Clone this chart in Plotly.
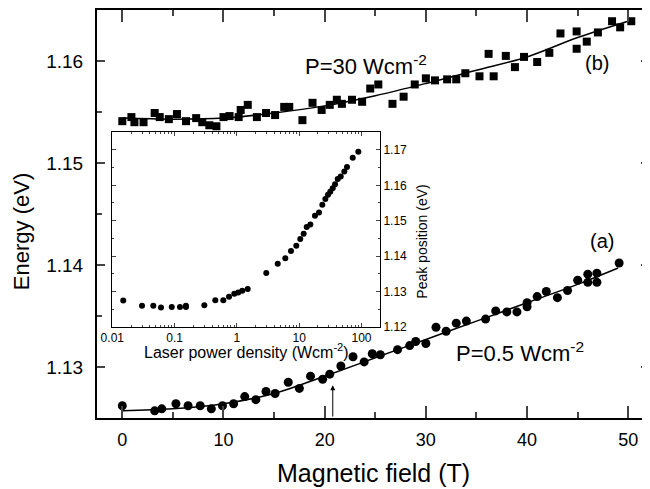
import plotly.graph_objects as go

# (a) P = 0.5 W/cm2, circles
field_a = [0.0, 3.2, 3.9, 5.3, 6.5, 7.7, 8.8, 9.9, 11.0, 12.1, 13.2, 14.2, 15.1, 16.4, 17.5,
           18.6, 19.8, 20.5, 21.6, 22.8, 23.9, 24.7, 25.5, 27.2, 28.4, 29.0, 30.0, 31.0, 32.0,
           33.0, 34.0, 35.9, 36.9, 38.0, 39.0, 40.0, 40.0, 41.0, 41.9, 43.0, 44.0, 45.0, 46.0,
           46.0, 46.9, 46.9, 49.1]
energy_a = [1.1262, 1.1257, 1.1259, 1.1264, 1.1262, 1.1262, 1.1259, 1.1262, 1.1264, 1.1271,
            1.1268, 1.1276, 1.1274, 1.1285, 1.1279, 1.1291, 1.1288, 1.1293, 1.1301, 1.1310,
            1.1305, 1.1313, 1.1312, 1.1317, 1.1321, 1.1325, 1.1323, 1.1339, 1.1335, 1.1343,
            1.1345, 1.1347, 1.1355, 1.1354, 1.1354, 1.1359, 1.1363, 1.1369, 1.1374, 1.1368,
            1.1375, 1.1385, 1.1391, 1.1383, 1.1392, 1.1383, 1.1402]
fit_field_a = [0, 5, 10, 15, 20, 25, 30, 35, 40, 45, 49]
fit_energy_a = [1.1257, 1.1259, 1.1264, 1.1274, 1.1291, 1.1309, 1.1327, 1.1345, 1.1363, 1.1381, 1.1397]

# (b) P = 30 W/cm2, squares
field_b = [0.0, 0.9, 1.2, 2.1, 3.2, 3.7, 4.6, 5.4, 6.3, 7.3, 7.9, 8.6, 9.3, 10.0, 10.6, 11.5,
           11.7, 12.4, 13.3, 14.2, 15.1, 16.0, 16.5, 17.8, 18.8, 19.7, 20.5, 21.2, 21.7, 22.7,
           23.7, 24.5, 25.3, 26.7, 27.8, 28.9, 30.0, 30.9, 32.1, 33.0, 33.9, 35.3, 36.2, 36.7,
           37.9, 38.8, 39.7, 41.0, 42.2, 43.3, 44.9, 44.9, 45.9, 47.0, 48.4, 49.2, 50.3]
energy_b = [1.1541, 1.1545, 1.1540, 1.1540, 1.1549, 1.1545, 1.1543, 1.1548, 1.1541, 1.1544,
            1.1540, 1.1537, 1.1536, 1.1545, 1.1546, 1.1545, 1.1552, 1.1557, 1.1545, 1.1549,
            1.1547, 1.1555, 1.1555, 1.1542, 1.1559, 1.1552, 1.1557, 1.1562, 1.1558, 1.1562,
            1.1560, 1.1573, 1.1577, 1.1558, 1.1565, 1.1577, 1.1583, 1.1581, 1.1582, 1.1582,
            1.1588, 1.1585, 1.1607, 1.1585, 1.1605, 1.1594, 1.1604, 1.1599, 1.1608, 1.1627,
            1.1629, 1.1612, 1.1619, 1.1628, 1.1639, 1.1633, 1.1639]
fit_field_b = [0, 5, 10, 15, 20, 25, 30, 35, 40, 45, 50.3]
fit_energy_b = [1.1544, 1.1543, 1.1544, 1.1549, 1.1556, 1.1566, 1.1578, 1.1591, 1.1604, 1.1623, 1.1640]

# inset: peak position vs laser power density
power = [0.015, 0.030, 0.0455, 0.0605, 0.090, 0.122, 0.152, 0.152, 0.30, 0.45, 0.605, 0.747,
         0.908, 1.05, 1.22, 1.49, 2.96, 4.52, 5.98, 7.38, 8.98, 10.4, 11.8, 13.2, 15.1, 17.9,
         20.8, 23.5, 26.3, 29.0, 31.5, 34.5, 37.6, 41.5, 46.4, 53.0, 58.5, 72.3, 88.9]
peak = [1.1274, 1.1259, 1.1259, 1.1254, 1.1256, 1.1256, 1.1259, 1.1256, 1.1261, 1.1275, 1.1275,
        1.1285, 1.1293, 1.1297, 1.1302, 1.1307, 1.1352, 1.1378, 1.1394, 1.1414, 1.1429, 1.1448,
        1.1463, 1.1482, 1.1489, 1.1514, 1.1523, 1.1545, 1.1561, 1.1573, 1.1582, 1.1592, 1.1603,
        1.1618, 1.1625, 1.1639, 1.1652, 1.1678, 1.1695]

inset_xticks = [0.01, 0.1, 1, 10, 100]
inset_xlabels = ["0.01", "0.1", "1", "10", "100"]
inset_minor = [m * d for d in [0.01, 0.1, 1, 10, 100] for m in range(2, 10) if m * d < 200]

FONT = "Liberation Sans, Arial, sans-serif"

fig = go.Figure()
fig.add_trace(go.Scatter(x=fit_field_a, y=fit_energy_a, mode="lines", line=dict(color="black", width=1.5, shape="spline")))
fig.add_trace(go.Scatter(x=field_a, y=energy_a, mode="markers", marker=dict(symbol="circle", size=9, color="black")))
fig.add_trace(go.Scatter(x=fit_field_b, y=fit_energy_b, mode="lines", line=dict(color="black", width=1.5, shape="spline")))
fig.add_trace(go.Scatter(x=field_b, y=energy_b, mode="markers", marker=dict(symbol="square", size=8, color="black")))
fig.add_trace(go.Scatter(x=power, y=peak, mode="markers", xaxis="x2", yaxis="y2", marker=dict(size=6, color="black")))

# the page body adds an 8px offset; figure sized so it fills the window exactly
fig.update_layout(
    width=642, height=481,
    margin=dict(l=89, r=1, t=2, b=71),
    plot_bgcolor="white", paper_bgcolor="white",
    showlegend=False,
    font=dict(family=FONT, color="black"),
    xaxis=dict(
        range=[-2.5, 52.05], tickvals=[0, 10, 20, 30, 40, 50], ticks="inside", ticklen=12, tickwidth=1.5,
        minor=dict(tickvals=[5, 15, 25, 35, 45], ticks="inside", ticklen=6, tickwidth=1.5),
        showline=True, linewidth=2, linecolor="black", mirror="allticks", showgrid=False, zeroline=False,
        tickfont=dict(size=18), ticklabelstandoff=4, automargin=False,
    ),
    yaxis=dict(
        range=[1.125, 1.165], tickvals=[1.13, 1.14, 1.15, 1.16], tickformat=".2f", ticks="inside", ticklen=8, tickwidth=1.5,
        minor=dict(tickvals=[1.135, 1.145, 1.155], ticks="inside", ticklen=5, tickwidth=1.5),
        showline=True, linewidth=2, linecolor="black", mirror="allticks", showgrid=False, zeroline=False,
        tickfont=dict(size=19), ticklabelstandoff=8, automargin=False,
    ),
    xaxis2=dict(
        type="log", range=[-2, 2.297], domain=[0.0277, 0.5127], anchor="y2",
        tickvals=inset_xticks, ticktext=inset_xlabels, ticks="inside", ticklen=4, tickwidth=1,
        minor=dict(tickvals=inset_minor, ticks="inside", ticklen=2, tickwidth=1),
        showline=True, linewidth=1, linecolor="black", mirror="allticks", showgrid=False, zeroline=False,
        tickfont=dict(size=12), automargin=False,
    ),
    yaxis2=dict(
        range=[1.12, 1.175], domain=[0.2238, 0.7002], anchor="x2", side="right",
        tickvals=[1.12, 1.13, 1.14, 1.15, 1.16, 1.17], tickformat=".2f", ticks="inside", ticklen=4, tickwidth=1,
        minor=dict(tickvals=[1.125, 1.135, 1.145, 1.155, 1.165], ticks="inside", ticklen=2, tickwidth=1),
        showline=True, linewidth=1, linecolor="black", mirror="allticks", showgrid=False, zeroline=False,
        tickfont=dict(size=12), automargin=False,
    ),
    annotations=[
        # axis titles placed in paper coordinates
        dict(x=0.5, y=-0.1348, xref="paper", yref="paper", text="Magnetic field (T)", showarrow=False,
             font=dict(size=25), xanchor="center", yanchor="middle"),
        dict(x=-0.1377, y=0.458, xref="paper", yref="paper", text="Energy (eV)", showarrow=False,
             font=dict(size=22), textangle=-90, xanchor="center", yanchor="middle"),
        dict(x=0.2717, y=0.1635, xref="paper", yref="paper", text="Laser power density (Wcm<sup>-2</sup>)",
             showarrow=False, font=dict(size=16), xanchor="center", yanchor="middle"),
        dict(x=0.5887, y=0.432, xref="paper", yref="paper", text="Peak position (eV)", showarrow=False,
             font=dict(size=14), textangle=-90, xanchor="center", yanchor="middle"),
        dict(x=24.1, y=1.1596, text="P=30 Wcm<sup>-2</sup>", showarrow=False, font=dict(size=22)),
        dict(x=39.3, y=1.1315, text="P=0.5 Wcm<sup>-2</sup>", showarrow=False, font=dict(size=22)),
        dict(x=46.9, y=1.1598, text="(b)", showarrow=False, font=dict(size=20)),
        dict(x=47.4, y=1.1424, text="(a)", showarrow=False, font=dict(size=20)),
        dict(x=20.8, y=1.1282, ax=20.8, ay=1.125, axref="x", ayref="y", text="", showarrow=True,
             arrowhead=2, arrowsize=1, arrowwidth=1, arrowcolor="black"),
    ],
)

fig.write_html("out.html")
